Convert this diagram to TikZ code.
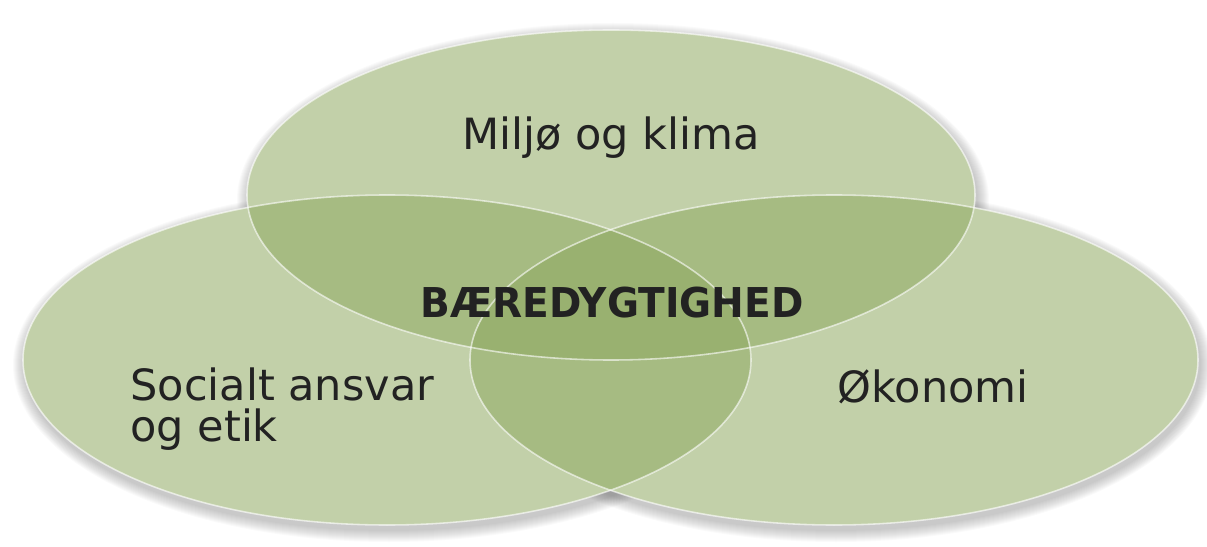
\documentclass[tikz,border=0pt]{standalone}
\usepackage{fontspec}
\setmainfont{DejaVu Sans}
\usepackage{tikz}
\usetikzlibrary{calc}
\definecolor{venngreen}{RGB}{144,170,99}
\definecolor{labelgray}{RGB}{34,34,34}

\begin{document}
\begin{tikzpicture}[x=0.02cm, y=-0.02cm,
    labeltext/.style={inner sep=0pt, text=labelgray, font=\fontsize{24.5}{23}\selectfont}]
            \pgfmathsetmacro{\rx}{364}
            \pgfmathsetmacro{\ry}{165}

            \useasboundingbox (0,0) rectangle (1207,547);

            \coordinate (miljo) at (611,195);
            \coordinate (social) at (387,360);
            \coordinate (okonomi) at (834,360);

            % soft shadow below the three sets
            \foreach \c in {miljo, social, okonomi}{
                \foreach \k in {1,...,12}{
                    \fill[black, fill opacity=0.018] ($(\c)+(2,5)$) ellipse [x radius=\rx+\k, y radius=\ry+\k];
                }
            }

            % white base so the shadow stays outside
            \foreach \c in {miljo, social, okonomi}
            \fill[white] (\c) ellipse [x radius=\rx, y radius=\ry];

            % the three sets
            \foreach \c in {miljo, social, okonomi}
            \fill[venngreen, fill opacity=0.55] (\c) ellipse [x radius=\rx, y radius=\ry];

            % white rims
            \foreach \c in {miljo, social, okonomi}
            \draw[white, line width=0.9pt, opacity=0.6] (\c) ellipse [x radius=\rx, y radius=\ry];

            % labels
            \node[labeltext, anchor=base] (miljotxt) at (611,150) {Miljø og klima};
            \node[labeltext, anchor=base west, align=left] (socialtxt) at (130,441) {Socialt ansvar\\og etik};
            \node[labeltext, anchor=base] (okonomitxt) at (933,402) {Økonomi};
            \node[labeltext, anchor=base, xscale=0.95, font=\bfseries\fontsize{23.4}{23}\selectfont] (centertxt) at (612,317) {BÆREDYGTIGHED};

        \end{tikzpicture}
\end{document}
